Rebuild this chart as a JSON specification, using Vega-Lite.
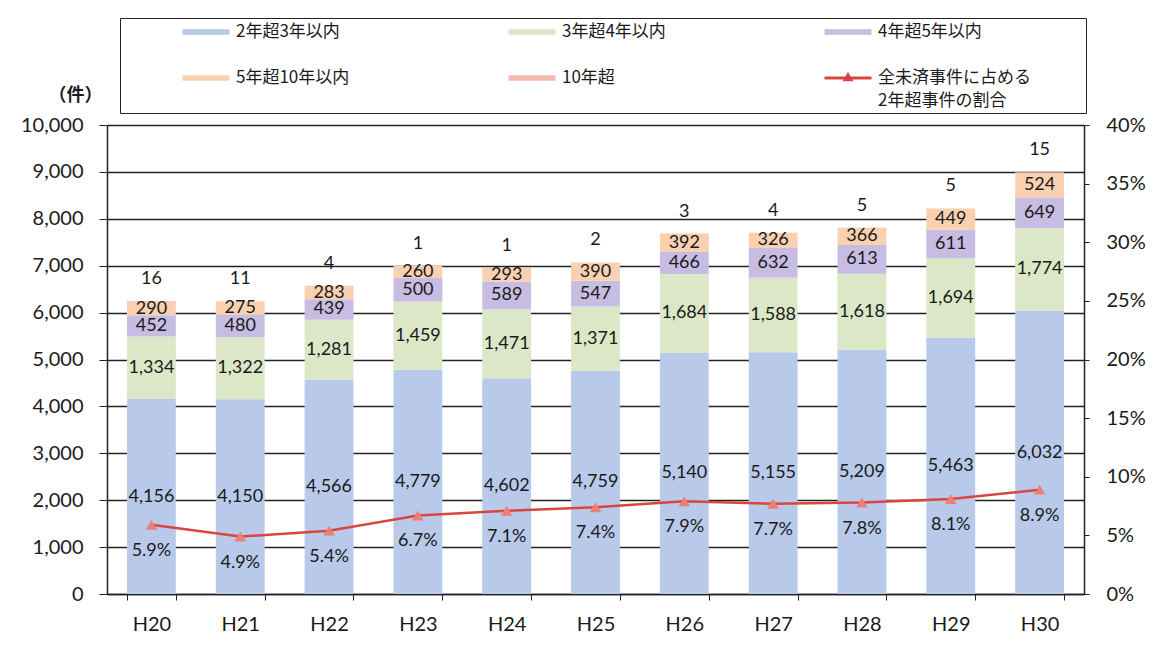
{
  "$schema": "https://vega.github.io/schema/vega-lite/v6.json",
  "width": 977,
  "height": 469,
  "autosize": {"type": "none"},
  "padding": {"left": 107, "top": 125, "right": 77, "bottom": 61},
  "background": "white",
  "config": {"view": {"stroke": null}, "font": "Lato", "text": {"font": "Lato"}},
  "datasets": {
    "bars": [
      {"year": "H20", "series": "2年超3年以内", "order": 1, "value": 4156},
      {"year": "H20", "series": "3年超4年以内", "order": 2, "value": 1334},
      {"year": "H20", "series": "4年超5年以内", "order": 3, "value": 452},
      {"year": "H20", "series": "5年超10年以内", "order": 4, "value": 290},
      {"year": "H20", "series": "10年超", "order": 5, "value": 16},
      {"year": "H21", "series": "2年超3年以内", "order": 1, "value": 4150},
      {"year": "H21", "series": "3年超4年以内", "order": 2, "value": 1322},
      {"year": "H21", "series": "4年超5年以内", "order": 3, "value": 480},
      {"year": "H21", "series": "5年超10年以内", "order": 4, "value": 275},
      {"year": "H21", "series": "10年超", "order": 5, "value": 11},
      {"year": "H22", "series": "2年超3年以内", "order": 1, "value": 4566},
      {"year": "H22", "series": "3年超4年以内", "order": 2, "value": 1281},
      {"year": "H22", "series": "4年超5年以内", "order": 3, "value": 439},
      {"year": "H22", "series": "5年超10年以内", "order": 4, "value": 283},
      {"year": "H22", "series": "10年超", "order": 5, "value": 4},
      {"year": "H23", "series": "2年超3年以内", "order": 1, "value": 4779},
      {"year": "H23", "series": "3年超4年以内", "order": 2, "value": 1459},
      {"year": "H23", "series": "4年超5年以内", "order": 3, "value": 500},
      {"year": "H23", "series": "5年超10年以内", "order": 4, "value": 260},
      {"year": "H23", "series": "10年超", "order": 5, "value": 1},
      {"year": "H24", "series": "2年超3年以内", "order": 1, "value": 4602},
      {"year": "H24", "series": "3年超4年以内", "order": 2, "value": 1471},
      {"year": "H24", "series": "4年超5年以内", "order": 3, "value": 589},
      {"year": "H24", "series": "5年超10年以内", "order": 4, "value": 293},
      {"year": "H24", "series": "10年超", "order": 5, "value": 1},
      {"year": "H25", "series": "2年超3年以内", "order": 1, "value": 4759},
      {"year": "H25", "series": "3年超4年以内", "order": 2, "value": 1371},
      {"year": "H25", "series": "4年超5年以内", "order": 3, "value": 547},
      {"year": "H25", "series": "5年超10年以内", "order": 4, "value": 390},
      {"year": "H25", "series": "10年超", "order": 5, "value": 2},
      {"year": "H26", "series": "2年超3年以内", "order": 1, "value": 5140},
      {"year": "H26", "series": "3年超4年以内", "order": 2, "value": 1684},
      {"year": "H26", "series": "4年超5年以内", "order": 3, "value": 466},
      {"year": "H26", "series": "5年超10年以内", "order": 4, "value": 392},
      {"year": "H26", "series": "10年超", "order": 5, "value": 3},
      {"year": "H27", "series": "2年超3年以内", "order": 1, "value": 5155},
      {"year": "H27", "series": "3年超4年以内", "order": 2, "value": 1588},
      {"year": "H27", "series": "4年超5年以内", "order": 3, "value": 632},
      {"year": "H27", "series": "5年超10年以内", "order": 4, "value": 326},
      {"year": "H27", "series": "10年超", "order": 5, "value": 4},
      {"year": "H28", "series": "2年超3年以内", "order": 1, "value": 5209},
      {"year": "H28", "series": "3年超4年以内", "order": 2, "value": 1618},
      {"year": "H28", "series": "4年超5年以内", "order": 3, "value": 613},
      {"year": "H28", "series": "5年超10年以内", "order": 4, "value": 366},
      {"year": "H28", "series": "10年超", "order": 5, "value": 5},
      {"year": "H29", "series": "2年超3年以内", "order": 1, "value": 5463},
      {"year": "H29", "series": "3年超4年以内", "order": 2, "value": 1694},
      {"year": "H29", "series": "4年超5年以内", "order": 3, "value": 611},
      {"year": "H29", "series": "5年超10年以内", "order": 4, "value": 449},
      {"year": "H29", "series": "10年超", "order": 5, "value": 5},
      {"year": "H30", "series": "2年超3年以内", "order": 1, "value": 6032},
      {"year": "H30", "series": "3年超4年以内", "order": 2, "value": 1774},
      {"year": "H30", "series": "4年超5年以内", "order": 3, "value": 649},
      {"year": "H30", "series": "5年超10年以内", "order": 4, "value": 524},
      {"year": "H30", "series": "10年超", "order": 5, "value": 15}
    ],
    "rate": [
      {"year": "H20", "series": "全未済事件に占める2年超事件の割合", "pct": 0.059},
      {"year": "H21", "series": "全未済事件に占める2年超事件の割合", "pct": 0.049},
      {"year": "H22", "series": "全未済事件に占める2年超事件の割合", "pct": 0.054},
      {"year": "H23", "series": "全未済事件に占める2年超事件の割合", "pct": 0.067},
      {"year": "H24", "series": "全未済事件に占める2年超事件の割合", "pct": 0.071},
      {"year": "H25", "series": "全未済事件に占める2年超事件の割合", "pct": 0.074},
      {"year": "H26", "series": "全未済事件に占める2年超事件の割合", "pct": 0.079},
      {"year": "H27", "series": "全未済事件に占める2年超事件の割合", "pct": 0.077},
      {"year": "H28", "series": "全未済事件に占める2年超事件の割合", "pct": 0.078},
      {"year": "H29", "series": "全未済事件に占める2年超事件の割合", "pct": 0.081},
      {"year": "H30", "series": "全未済事件に占める2年超事件の割合", "pct": 0.089}
    ]
  },
  "layer": [
    {
      "data": {"name": "bars"},
      "transform": [
        {"stack": "value", "groupby": ["year"], "sort": [{"field": "order", "order": "ascending"}], "as": ["v0", "v1"]},
        {"calculate": "(datum.v0 + datum.v1) / 2", "as": "mid"}
      ],
      "layer": [
        {
          "mark": {"type": "bar"},
          "encoding": {
            "x": {
              "field": "year", "type": "nominal",
              "scale": {"paddingInner": 0.45, "paddingOuter": 0.225},
              "axis": {"title": null, "labelAngle": 0, "labelFont": "Lato", "labelFontSize": 20, "labelColor": "#1a1a1a", "tickBand": "extent", "tickSize": 6, "tickColor": "#222", "domainColor": "#222", "domainWidth": 1.5, "labelPadding": 14}
            },
            "y": {
              "field": "v0", "type": "quantitative",
              "scale": {"domain": [0, 10000], "nice": false},
              "axis": {
                "orient": "left",
                "values": [0, 1000, 2000, 3000, 4000, 5000, 6000, 7000, 8000, 9000, 10000],
                "format": ",.0f", "labelFont": "Lato", "labelFontSize": 20, "labelColor": "#1a1a1a",
                "tickSize": 8, "tickColor": "#222", "labelPadding": 16,
                "domainColor": "#222", "domainWidth": 1.5,
                "grid": true, "gridColor": "#222", "gridWidth": 1.3,
                "title": "（件）", "titleAngle": 0, "titleX": -32, "titleY": -30,
                "titleAlign": "center", "titleBaseline": "middle",
                "titleFont": "Noto Sans CJK JP", "titleFontSize": 18, "titleFontWeight": "bold", "titleColor": "#1a1a1a"
              }
            },
            "y2": {"field": "v1"},
            "color": {
              "field": "series", "type": "nominal",
              "scale": {
                "domain": ["2年超3年以内", "3年超4年以内", "4年超5年以内", "5年超10年以内", "10年超", "全未済事件に占める2年超事件の割合"],
                "range": ["#b8c9e9", "#dbe7c7", "#c7bde2", "#f9d0b0", "#f4b8b0", "#d9463f"]
              },
              "legend": {
                "orient": "none", "legendX": 13, "legendY": -107,
                "direction": "horizontal", "columns": 3,
                "title": null,
                "strokeColor": "#222", "padding": 4,
                "symbolOffset": 72,
                "columnPadding": 100, "rowPadding": 28,
                "gridAlign": "each",
                "symbolType": "M-2.35,-0.28H2.35V0.28H-2.35Z",
                "symbolSize": 400,
                "symbolStrokeWidth": 0, "symbolOpacity": 1,
                "labelFont": "Noto Sans CJK JP", "labelFontSize": 17, "labelColor": "#1a1a1a",
                "labelOffset": 20, "labelLimit": 400,
                "labelExpr": "datum.label == '全未済事件に占める2年超事件の割合' ? ['全未済事件に占める　　　\u200b', '2年超事件の割合'] : datum.label",
                "encode": {
                  "labels": {"update": {"lineHeight": {"value": 23}}},
                  "symbols": {
                    "update": {
                      "shape": {"signal": "datum.value == '全未済事件に占める2年超事件の割合' ? 'M-2.35,-0.14H2.35V0.14H-2.35Z M-0.56,0.33L0,-0.61L0.56,0.33Z' : 'M-2.35,-0.28H2.35V0.28H-2.35Z'"}
                    }
                  }
                }
              }
            }
          }
        },
        {
          "transform": [{"filter": "datum.order <= 4"}],
          "mark": {"type": "text", "fontSize": 18, "color": "#1a1a1a", "baseline": "middle"},
          "encoding": {
            "x": {"field": "year", "type": "nominal"},
            "y": {"field": "mid", "type": "quantitative"},
            "text": {"field": "value", "type": "quantitative", "format": ",.0f"}
          }
        },
        {
          "transform": [{"filter": "datum.order == 5"}],
          "mark": {"type": "text", "fontSize": 18, "color": "#1a1a1a", "baseline": "middle", "dy": -22},
          "encoding": {
            "x": {"field": "year", "type": "nominal"},
            "y": {"field": "v1", "type": "quantitative"},
            "text": {"field": "value", "type": "quantitative", "format": ",.0f"}
          }
        }
      ]
    },
    {
      "data": {"name": "rate"},
      "encoding": {
        "x": {"field": "year", "type": "nominal"},
        "y": {
          "field": "pct", "type": "quantitative",
          "scale": {"domain": [0, 0.4], "nice": false},
          "axis": {
            "orient": "right", "title": null, "grid": false,
            "values": [0, 0.05, 0.1, 0.15, 0.2, 0.25, 0.3, 0.35, 0.4],
            "format": ".0%", "labelFont": "Lato", "labelFontSize": 20, "labelColor": "#1a1a1a",
            "tickSize": 5, "tickColor": "#222", "labelPadding": 17,
            "domainColor": "#222", "domainWidth": 1.5
          }
        }
      },
      "layer": [
        {
          "mark": {"type": "line", "strokeWidth": 2.5},
          "encoding": {"color": {"field": "series", "type": "nominal"}}
        },
        {
          "mark": {"type": "point", "shape": "triangle-up", "filled": true, "size": 130, "opacity": 1, "color": "#ee7d73"}
        },
        {
          "mark": {"type": "text", "fontSize": 18, "color": "#1a1a1a", "baseline": "middle", "dy": 26},
          "encoding": {"text": {"field": "pct", "type": "quantitative", "format": ".1%"}}
        }
      ]
    }
  ],
  "resolve": {"scale": {"y": "independent"}}
}
